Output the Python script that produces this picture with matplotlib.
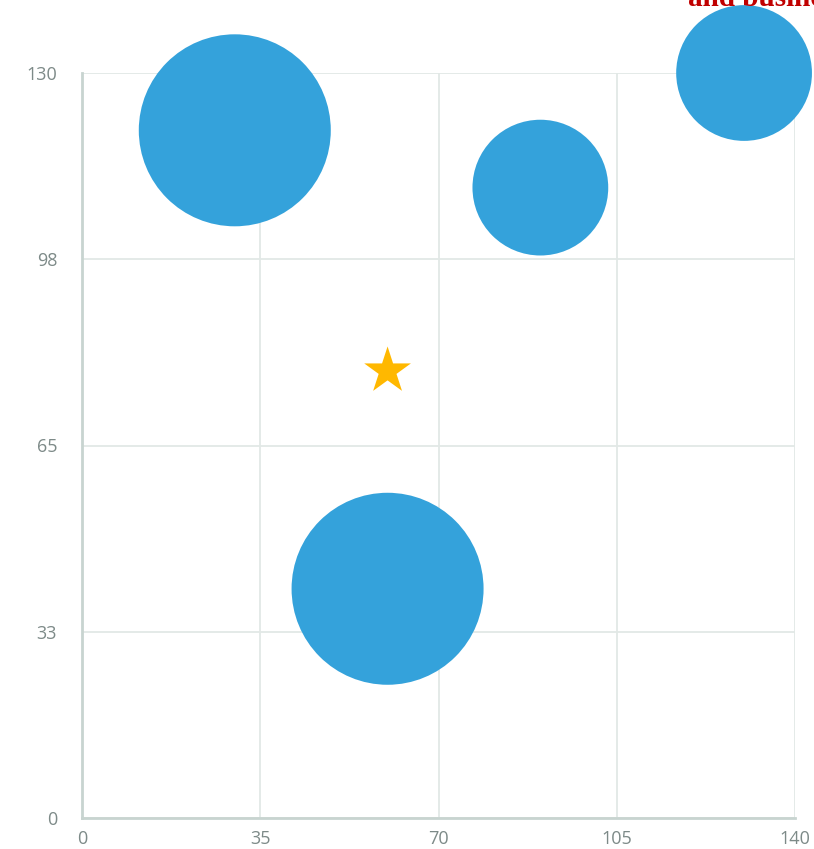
import numpy as np
import matplotlib
matplotlib.use("Agg")
import matplotlib.pyplot as plt

# ---------------------------------------------------------------------------
# Data
# ---------------------------------------------------------------------------
bubble_x = [30, 90, 130, 60]
bubble_y = [120, 110, 130, 40]
bubble_z = [20, 10, 10, 20]

star_x = [60]
star_y = [78]

x_ticks = [0, 35, 70, 105, 140]
y_ticks = [0, 32.5, 65, 97.5, 130]
y_tick_labels = ["0", "33", "65", "98", "130"]

BLUE = "#34a2db"
GOLD = "#ffb800"
GRID = "#e2e8e6"
AXIS = "#c8d4d0"
LABEL = "#7d8a88"

fig = plt.figure(figsize=(8.14, 8.49), dpi=100)
ax = fig.add_axes([82 / 814, 31 / 849, 713 / 814, 745 / 849])

# bubble area proportional to value (z=20 -> radius ~96 px)
px_per_pt = 100 / 72
scale = (2 * 96 / px_per_pt) ** 2 / 20
sizes = np.array(bubble_z) * scale

ax.scatter(bubble_x, bubble_y, s=sizes, c=BLUE, edgecolors="none",
           clip_on=False, zorder=3)
ax.scatter(star_x, star_y, s=1250, c=GOLD, marker="*", edgecolors="none",
           zorder=4)

ax.set_xlim(0, 140)
ax.set_ylim(0, 130)
ax.set_xticks(x_ticks)
ax.set_xticklabels([str(t) for t in x_ticks])
ax.set_yticks(y_ticks)
ax.set_yticklabels(y_tick_labels)

ax.grid(True, color=GRID, linewidth=1.3, zorder=0)
ax.set_axisbelow(True)
for side in ["top", "right"]:
    ax.spines[side].set_visible(False)
for side in ["left", "bottom"]:
    ax.spines[side].set_color(AXIS)
    ax.spines[side].set_linewidth(2)

ax.tick_params(axis="both", length=0, labelsize=13, labelcolor=LABEL)
ax.tick_params(axis="x", pad=9)
ax.tick_params(axis="y", pad=18)
for lbl in ax.get_xticklabels() + ax.get_yticklabels():
    lbl.set_fontfamily("Open Sans")

# stray caption text clipped at the top edge of the image
fig.text(688 / 814, 1 - 6 / 849, "and business", color="#c00000",
         fontsize=21, fontfamily="Liberation Serif", fontweight="bold",
         va="baseline", ha="left")

fig.savefig("out.png", dpi=100)
